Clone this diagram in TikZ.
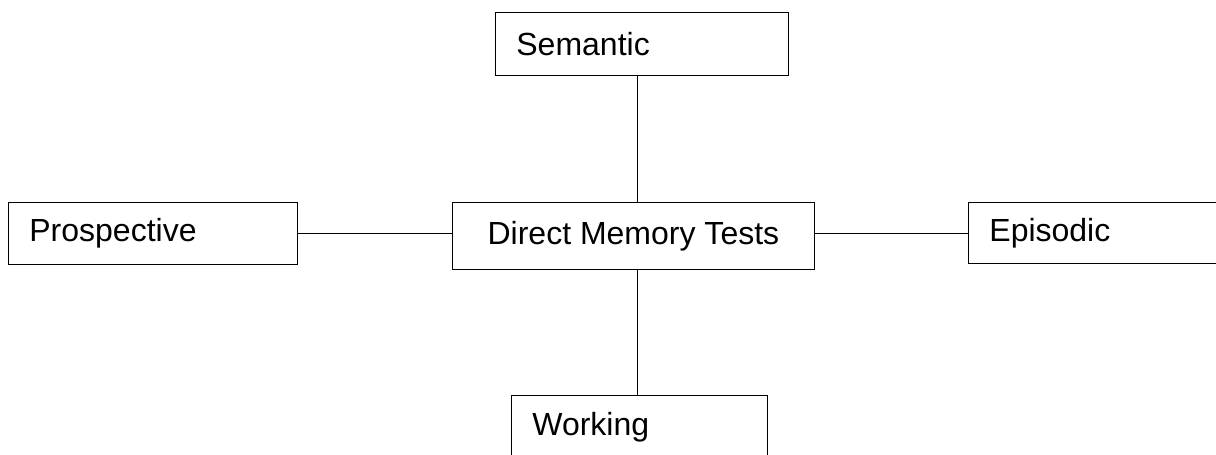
\documentclass[tikz,border=0pt]{standalone}
\usepackage{fontspec}
\setmainfont{Liberation Sans}
\usetikzlibrary{positioning}
\tikzset{
x=0.5pt, y=-0.5pt, % one unit is one pixel of the sketch, y grows downwards
line width=1.1pt, % black lines everywhere
every node/.style={font=\fontsize{16}{18}\selectfont},
memory/.style 2 args={draw, anchor=north west, align=left, inner xsep=10.5pt, text width=#1, minimum height=#2}, % outer boxes, text on the left
hub/.style={draw, anchor=north west, align=center, minimum width=181pt, minimum height=33.5pt}, % the middle box
}
\begin{document}
\begin{tikzpicture}
        \useasboundingbox (0,0) rectangle (1216,455);

        \node[hub] (dmt) at (452,202) {Direct Memory Tests};
        \node[memory={125.5pt}{31.5pt}] (sem) at (495,12) {Semantic};
        \node[memory={123.5pt}{31pt}] (pro) at (8,202) {Prospective};
        \node[memory={110pt}{30.5pt}] (epi) at (968,202) {Episodic};
        \node[memory={107pt}{31.5pt}] (wrk) at (511,395) {Working};

        \coordinate (axis) at (637,0);
        \draw (sem.south -| axis) -- (dmt.north -| axis)
        (dmt.south -| axis) -- (wrk.north -| axis)
        (pro.east) -- (pro.east -| dmt.west)
        (epi.west) -- (epi.west -| dmt.east);
      \end{tikzpicture}
\end{document}
